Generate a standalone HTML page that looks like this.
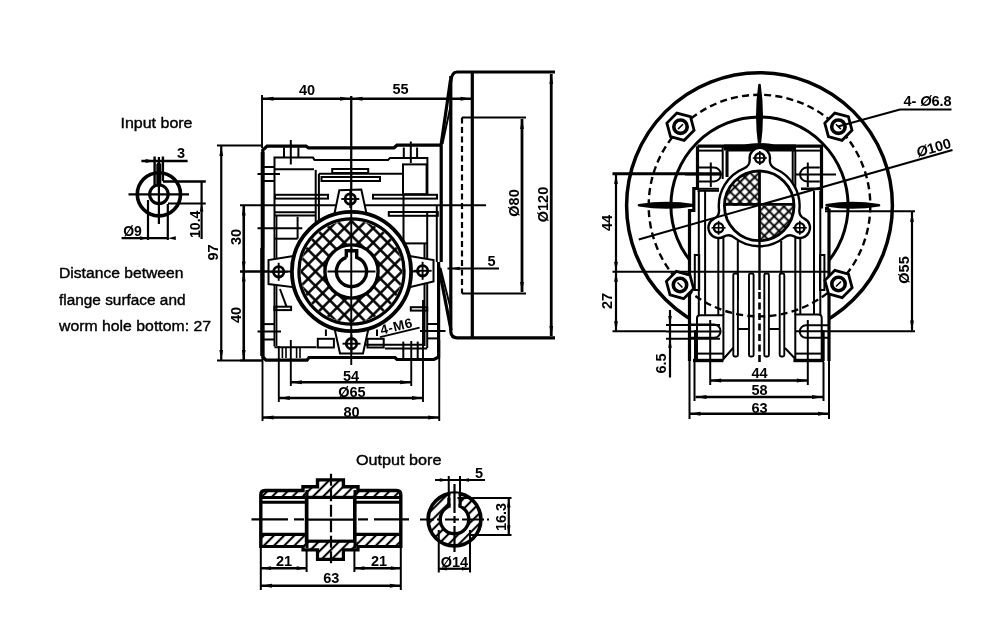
<!DOCTYPE html>
<html><head><meta charset="utf-8"><style>
html,body{margin:0;padding:0;background:#fff;}
svg{display:block;will-change:transform;}
text{font-family:"Liberation Sans",sans-serif;fill:#000;stroke:none;}
</style></head><body>
<svg width="1000" height="636" viewBox="0 0 1000 636" stroke="#000" fill="none">
<defs>
<pattern id="xh" patternUnits="userSpaceOnUse" x="351.5" y="271.5" width="10.2" height="10.2" patternTransform="rotate(45 351.5 271.5)">
<line x1="5.1" y1="-1" x2="5.1" y2="11.2" stroke="#000" stroke-width="2.5"/>
<line x1="-1" y1="5.1" x2="11.2" y2="5.1" stroke="#000" stroke-width="2.5"/>
</pattern>
<pattern id="xh2" patternUnits="userSpaceOnUse" x="759.5" y="206.5" width="6.9" height="6.9" patternTransform="rotate(45 759.5 206.5)">
<line x1="3.45" y1="-1" x2="3.45" y2="7.9" stroke="#000" stroke-width="1.9"/>
<line x1="-1" y1="3.45" x2="7.9" y2="3.45" stroke="#000" stroke-width="1.9"/>
</pattern>
<pattern id="hatch" patternUnits="userSpaceOnUse" width="7.2" height="7.2" patternTransform="rotate(45)">
<line x1="3.6" y1="-1" x2="3.6" y2="8.2" stroke="#000" stroke-width="2.1"/>
</pattern>
</defs>
<rect x="0" y="0" width="1000" height="636" fill="#fff" stroke="none"/>
<text x="120.5" y="128" font-size="15.5" fill="#000" style="stroke:#000;stroke-width:0.4" textLength="72" lengthAdjust="spacingAndGlyphs">Input bore</text>
<text x="59" y="278" font-size="15.5" fill="#000" style="stroke:#000;stroke-width:0.4" textLength="124.5" lengthAdjust="spacingAndGlyphs">Distance between</text>
<text x="59" y="305" font-size="15.5" fill="#000" style="stroke:#000;stroke-width:0.4" textLength="126.5" lengthAdjust="spacingAndGlyphs">flange surface and</text>
<text x="59" y="331" font-size="15.5" fill="#000" style="stroke:#000;stroke-width:0.4" textLength="152" lengthAdjust="spacingAndGlyphs">worm hole bottom: 27</text>
<text x="356" y="465" font-size="15.5" fill="#000" style="stroke:#000;stroke-width:0.4" textLength="85.5" lengthAdjust="spacingAndGlyphs">Output bore</text>
<circle cx="158.9" cy="194.3" r="21.6" stroke-width="3.6" fill="none"/>
<circle cx="158.9" cy="194.3" r="9.3" stroke-width="3.1" fill="none"/>
<line x1="128.5" y1="194.3" x2="189" y2="194.3" stroke-width="2.2" stroke-linecap="butt"/>
<line x1="158.9" y1="157" x2="158.9" y2="224" stroke-width="2.2" stroke-linecap="butt"/>
<path d="M157.2,184 L157.2,164.5 Q158.8,162.5 160.4,164.5 L160.4,184" stroke-width="1.8" fill="none" />
<line x1="154.6" y1="156.5" x2="154.6" y2="185" stroke-width="2.4" stroke-linecap="butt"/>
<line x1="162.9" y1="156.5" x2="162.9" y2="181" stroke-width="2.4" stroke-linecap="butt"/>
<line x1="141.4" y1="161" x2="187.6" y2="161" stroke-width="2.4" stroke-linecap="butt"/>
<polygon points="154.60,161.00 145.60,159.00 145.60,163.00" stroke="none" fill="#000"/>
<text x="181" y="158" font-size="14.5" font-weight="bold" text-anchor="middle">3</text>
<line x1="162.9" y1="181.5" x2="205.8" y2="181.5" stroke-width="2.4" stroke-linecap="butt"/>
<line x1="168" y1="203.5" x2="205.8" y2="203.5" stroke-width="2.2" stroke-linecap="butt"/>
<line x1="201.6" y1="181.5" x2="201.6" y2="239" stroke-width="2.2" stroke-linecap="butt"/>
<polygon points="201.60,203.50 199.80,211.50 203.40,211.50" stroke="none" fill="#000"/>
<text x="0" y="0" transform="translate(199.5,224.3) rotate(-90)" font-size="14" font-weight="bold" text-anchor="middle">10.4</text>
<line x1="148" y1="200" x2="148" y2="240" stroke-width="2.2" stroke-linecap="butt"/>
<line x1="167.8" y1="204" x2="167.8" y2="240" stroke-width="2.2" stroke-linecap="butt"/>
<line x1="121.6" y1="238.2" x2="167.8" y2="238.2" stroke-width="2.2" stroke-linecap="butt"/>
<polygon points="148.00,238.20 140.00,236.30 140.00,240.10" stroke="none" fill="#000"/>
<polygon points="167.80,238.20 175.80,236.30 175.80,240.10" stroke="none" fill="#000"/>
<text x="132.5" y="235.8" font-size="14" font-weight="bold" text-anchor="middle">Ø9</text>
<line x1="262" y1="98.75" x2="471.5" y2="98.75" stroke-width="2.6" stroke-linecap="butt"/>
<polygon points="262.50,98.75 273.50,96.75 273.50,100.75" stroke="none" fill="#000"/>
<polygon points="351.00,98.75 340.00,96.75 340.00,100.75" stroke="none" fill="#000"/>
<polygon points="351.50,98.75 362.50,96.75 362.50,100.75" stroke="none" fill="#000"/>
<polygon points="471.50,98.75 460.50,96.75 460.50,100.75" stroke="none" fill="#000"/>
<line x1="262" y1="95" x2="262" y2="148" stroke-width="1.9" stroke-linecap="butt"/>
<line x1="351.25" y1="96" x2="351.25" y2="352" stroke-width="1.9" stroke-linecap="butt"/>
<text x="307" y="94.6" font-size="14.5" font-weight="bold" text-anchor="middle">40</text>
<text x="400.5" y="94.3" font-size="14.5" font-weight="bold" text-anchor="middle">55</text>
<line x1="217" y1="145.5" x2="263" y2="145.5" stroke-width="1.9" stroke-linecap="butt"/>
<line x1="217" y1="360.5" x2="263" y2="360.5" stroke-width="1.9" stroke-linecap="butt"/>
<line x1="221.25" y1="146" x2="221.25" y2="360" stroke-width="2.2" stroke-linecap="butt"/>
<polygon points="221.25,146.00 219.35,156.00 223.15,156.00" stroke="none" fill="#000"/>
<polygon points="221.25,360.00 219.35,350.00 223.15,350.00" stroke="none" fill="#000"/>
<text x="0" y="0" transform="translate(218,252.5) rotate(-90)" font-size="14.5" font-weight="bold" text-anchor="middle">97</text>
<line x1="240" y1="205.3" x2="486" y2="205.3" stroke-width="1.9" stroke-linecap="butt"/>
<line x1="240" y1="271.5" x2="290" y2="271.5" stroke-width="1.9" stroke-linecap="butt"/>
<line x1="240" y1="360.5" x2="262" y2="360.5" stroke-width="1.9" stroke-linecap="butt"/>
<line x1="243.75" y1="205.5" x2="243.75" y2="271.5" stroke-width="2.6" stroke-linecap="butt"/>
<polygon points="243.75,205.50 241.85,215.50 245.65,215.50" stroke="none" fill="#000"/>
<polygon points="243.75,271.50 241.85,261.50 245.65,261.50" stroke="none" fill="#000"/>
<line x1="243.75" y1="271.5" x2="243.75" y2="360" stroke-width="2.6" stroke-linecap="butt"/>
<polygon points="243.75,271.50 241.85,281.50 245.65,281.50" stroke="none" fill="#000"/>
<polygon points="243.75,360.00 241.85,350.00 245.65,350.00" stroke="none" fill="#000"/>
<text x="0" y="0" transform="translate(241,237) rotate(-90)" font-size="14.5" font-weight="bold" text-anchor="middle">30</text>
<text x="0" y="0" transform="translate(241,315) rotate(-90)" font-size="14.5" font-weight="bold" text-anchor="middle">40</text>
<line x1="290.8" y1="340" x2="290.8" y2="386" stroke-width="1.9" stroke-linecap="butt"/>
<line x1="411.25" y1="341" x2="411.25" y2="386" stroke-width="1.9" stroke-linecap="butt"/>
<line x1="290.8" y1="382.3" x2="411.25" y2="382.3" stroke-width="2.4" stroke-linecap="butt"/>
<polygon points="290.80,382.30 301.80,380.30 301.80,384.30" stroke="none" fill="#000"/>
<polygon points="411.25,382.30 400.25,380.30 400.25,384.30" stroke="none" fill="#000"/>
<line x1="278.8" y1="346" x2="278.8" y2="402" stroke-width="1.9" stroke-linecap="butt"/>
<line x1="423" y1="300" x2="423" y2="402" stroke-width="1.9" stroke-linecap="butt"/>
<line x1="278.8" y1="398" x2="423" y2="398" stroke-width="2.4" stroke-linecap="butt"/>
<polygon points="278.80,398.00 289.80,396.00 289.80,400.00" stroke="none" fill="#000"/>
<polygon points="423.00,398.00 412.00,396.00 412.00,400.00" stroke="none" fill="#000"/>
<line x1="262.5" y1="358" x2="262.5" y2="421" stroke-width="1.9" stroke-linecap="butt"/>
<line x1="439.25" y1="340" x2="439.25" y2="421" stroke-width="1.9" stroke-linecap="butt"/>
<line x1="262.5" y1="417.5" x2="439.25" y2="417.5" stroke-width="2.4" stroke-linecap="butt"/>
<polygon points="262.50,417.50 273.50,415.50 273.50,419.50" stroke="none" fill="#000"/>
<polygon points="439.25,417.50 428.25,415.50 428.25,419.50" stroke="none" fill="#000"/>
<text x="351" y="380.5" font-size="14.5" font-weight="bold" text-anchor="middle">54</text>
<text x="352" y="397.3" font-size="14.5" font-weight="bold" text-anchor="middle">Ø65</text>
<text x="351.5" y="417" font-size="14.5" font-weight="bold" text-anchor="middle">80</text>
<path d="M262.8,358 L262.8,150 L267,146.2 L306,146.2 L308.5,147.8 L394,147.8 L397,145.2 L441.5,145.2" stroke-width="3.2" fill="none" />
<path d="M441.2,145.2 L441.2,262 M438.6,262 L438.6,357 L434,359.5 L397,359.5 L395,357.5 L309,357.5 L307,360.2 L266,360.2 L262.8,357" stroke-width="3.2" fill="none" />
<line x1="262.6" y1="152" x2="262.6" y2="248" stroke-width="3.8" stroke-linecap="butt"/>
<line x1="262.3" y1="248" x2="262.3" y2="356" stroke-width="4.2" stroke-linecap="butt"/>
<path d="M450.7,82 Q451.5,72 457,72 L555,72" stroke-width="3.2" fill="none" />
<path d="M450.5,80 L441,145.5" stroke-width="3.2" fill="none" />
<line x1="451" y1="104" x2="442.5" y2="144" stroke-width="1.9" stroke-linecap="butt"/>
<path d="M438.4,265 L451,330" stroke-width="3.2" fill="none" />
<line x1="440.5" y1="268" x2="450.5" y2="308" stroke-width="1.9" stroke-linecap="butt"/>
<path d="M450.8,76 L450.8,332 Q451.5,337.8 457,337.8 L555,337.8" stroke-width="3.2" fill="none" />
<line x1="472.3" y1="72" x2="472.3" y2="338" stroke-width="3.2" stroke-linecap="butt"/>
<path d="M462,117.5 L526,117.5" stroke-width="2.2" fill="none" />
<line x1="462" y1="117.5" x2="462" y2="293.5" stroke-width="2.2" stroke-dasharray="6,3.5" stroke-linecap="butt"/>
<path d="M462,293.5 L526,293.5" stroke-width="2.2" fill="none" />
<line x1="522" y1="119" x2="522" y2="292" stroke-width="2.8" stroke-linecap="butt"/>
<polygon points="522.00,119.00 520.10,129.00 523.90,129.00" stroke="none" fill="#000"/>
<polygon points="522.00,292.00 520.10,282.00 523.90,282.00" stroke="none" fill="#000"/>
<line x1="551.25" y1="74" x2="551.25" y2="336" stroke-width="2.8" stroke-linecap="butt"/>
<polygon points="551.25,74.00 549.35,84.00 553.15,84.00" stroke="none" fill="#000"/>
<polygon points="551.25,336.00 549.35,326.00 553.15,326.00" stroke="none" fill="#000"/>
<text x="0" y="0" transform="translate(518.5,203) rotate(-90)" font-size="14.5" font-weight="bold" text-anchor="middle">Ø80</text>
<text x="0" y="0" transform="translate(547.5,204.5) rotate(-90)" font-size="14.5" font-weight="bold" text-anchor="middle">Ø120</text>
<line x1="447.5" y1="268.5" x2="499" y2="268.5" stroke-width="1.9" stroke-linecap="butt"/>
<polygon points="450.70,268.50 459.70,266.70 459.70,270.30" stroke="none" fill="#000"/>
<text x="491.5" y="266" font-size="14.5" font-weight="bold" text-anchor="middle">5</text>
<path d="M274.5,346.5 L274.5,157.6 L313,157.6 L314.5,160 L388,160 L390,158 L427.4,158 L427.4,194.2" stroke-width="2.0" fill="none" />
<line x1="276.6" y1="216" x2="276.6" y2="346" stroke-width="1.6" stroke-linecap="butt"/>
<line x1="284" y1="147.5" x2="284" y2="157.6" stroke-width="2.0" stroke-linecap="butt"/>
<line x1="298.4" y1="147.5" x2="298.4" y2="157.6" stroke-width="2.0" stroke-linecap="butt"/>
<line x1="290.8" y1="140" x2="290.8" y2="164.5" stroke-width="2.0" stroke-linecap="butt"/>
<line x1="403.8" y1="147.5" x2="403.8" y2="158" stroke-width="2.0" stroke-linecap="butt"/>
<line x1="417.1" y1="147.5" x2="417.1" y2="158" stroke-width="2.0" stroke-linecap="butt"/>
<line x1="410.8" y1="141.5" x2="410.8" y2="163" stroke-width="2.0" stroke-linecap="butt"/>
<line x1="263" y1="167" x2="274.5" y2="167" stroke-width="2.0" stroke-linecap="butt"/>
<line x1="257.5" y1="174" x2="280" y2="174" stroke-width="2.0" stroke-linecap="butt"/>
<line x1="263" y1="181" x2="274.5" y2="181" stroke-width="2.0" stroke-linecap="butt"/>
<line x1="274.5" y1="169.2" x2="314" y2="169.2" stroke-width="2.0" stroke-linecap="butt"/>
<line x1="315.7" y1="169.9" x2="315.7" y2="240" stroke-width="2.0" stroke-linecap="butt"/>
<line x1="318.9" y1="173.8" x2="318.9" y2="240" stroke-width="2.0" stroke-linecap="butt"/>
<rect x="321.5" y="177" width="58.5" height="4" stroke-width="2.0" fill="none"/>
<rect x="332.2" y="169" width="36" height="4" stroke-width="2.0" fill="none"/>
<line x1="318.9" y1="173.8" x2="402.2" y2="173.8" stroke-width="2.0" stroke-linecap="butt"/>
<rect x="403" y="164.4" width="23.6" height="29.8" stroke-width="2.0" fill="none"/>
<line x1="403.5" y1="194.2" x2="403.5" y2="243.4" stroke-width="2.0" stroke-linecap="butt"/>
<line x1="403.5" y1="243.4" x2="427.2" y2="243.4" stroke-width="2.0" stroke-linecap="butt"/>
<rect x="275" y="194.8" width="53" height="3.8" stroke-width="2.0" fill="none"/>
<rect x="373" y="194.8" width="64" height="3.8" stroke-width="2.0" fill="none"/>
<rect x="388.8" y="212" width="49" height="3.8" stroke-width="2.0" fill="none"/>
<line x1="274.8" y1="212.3" x2="315.7" y2="212.3" stroke-width="2.0" stroke-linecap="butt"/>
<line x1="274.8" y1="215.5" x2="315.7" y2="215.5" stroke-width="2.0" stroke-linecap="butt"/>
<line x1="436.8" y1="205" x2="436.8" y2="262" stroke-width="2.0" stroke-linecap="butt"/>
<line x1="257.5" y1="228.2" x2="302.3" y2="228.2" stroke-width="2.0" stroke-linecap="butt"/>
<line x1="297.6" y1="216.7" x2="297.6" y2="238.7" stroke-width="2.0" stroke-linecap="butt"/>
<line x1="274.8" y1="238.7" x2="297.6" y2="238.7" stroke-width="2.0" stroke-linecap="butt"/>
<line x1="424.5" y1="243" x2="424.5" y2="346" stroke-width="2.0" stroke-linecap="butt"/>
<line x1="427.2" y1="212" x2="427.2" y2="348" stroke-width="2.0" stroke-linecap="butt"/>
<line x1="274.5" y1="347.2" x2="316.5" y2="347.2" stroke-width="2.0" stroke-linecap="butt"/>
<line x1="355" y1="344.8" x2="424.5" y2="344.8" stroke-width="2.0" stroke-linecap="butt"/>
<line x1="385" y1="348.6" x2="427.2" y2="348.6" stroke-width="2.0" stroke-linecap="butt"/>
<rect x="274.4" y="306.7" width="16.7" height="3.4" stroke-width="2.0" fill="none"/>
<rect x="410.8" y="307.2" width="16.4" height="3.4" stroke-width="2.0" fill="none"/>
<line x1="279" y1="282" x2="290" y2="282" stroke-width="2.0" stroke-linecap="butt"/>
<line x1="290" y1="282" x2="299" y2="285" stroke-width="2.0" stroke-linecap="butt"/>
<line x1="280" y1="289" x2="286.5" y2="306.7" stroke-width="2.0" stroke-linecap="butt"/>
<line x1="263" y1="324.1" x2="274.4" y2="324.1" stroke-width="2.0" stroke-linecap="butt"/>
<line x1="263" y1="339.5" x2="274.4" y2="339.5" stroke-width="2.0" stroke-linecap="butt"/>
<line x1="257.5" y1="331.5" x2="281" y2="331.5" stroke-width="2.0" stroke-linecap="butt"/>
<line x1="428" y1="324" x2="437" y2="324" stroke-width="2.0" stroke-linecap="butt"/>
<line x1="428" y1="338.4" x2="437" y2="338.4" stroke-width="2.0" stroke-linecap="butt"/>
<line x1="420" y1="331" x2="445.5" y2="331" stroke-width="2.0" stroke-linecap="butt"/>
<line x1="282.4" y1="347" x2="282.4" y2="358" stroke-width="1.6" stroke-linecap="butt"/>
<line x1="286" y1="347" x2="286" y2="358" stroke-width="1.6" stroke-linecap="butt"/>
<line x1="296.6" y1="347" x2="296.6" y2="358" stroke-width="1.6" stroke-linecap="butt"/>
<line x1="300" y1="347" x2="300" y2="358" stroke-width="1.6" stroke-linecap="butt"/>
<line x1="403.3" y1="341.6" x2="403.3" y2="358" stroke-width="2.0" stroke-linecap="butt"/>
<line x1="417.7" y1="341.6" x2="417.7" y2="358" stroke-width="2.0" stroke-linecap="butt"/>
<rect x="317.8" y="338.8" width="16.1" height="8.7" stroke-width="2.0" fill="none"/>
<rect x="367.5" y="338.8" width="16.2" height="8.7" stroke-width="2.0" fill="none"/>
<line x1="325.9" y1="329.5" x2="325.9" y2="336" stroke-width="2.0" stroke-linecap="butt"/>
<line x1="377" y1="329.5" x2="377" y2="336" stroke-width="2.0" stroke-linecap="butt"/>
<path d="M409.50,256.00 L433.50,260.10 L433.50,281.50 L409.50,287.20 Z" stroke-width="2.0" fill="#fff" />
<path d="M293.50,256.00 L268.50,260.00 L268.50,284.00 L293.50,287.20 Z" stroke-width="2.0" fill="#fff" />
<path d="M334.50,213.50 L339.30,190.30 L361.30,189.50 L366.50,213.50 Z" stroke-width="2.0" fill="#fff" />
<path d="M334.50,328.50 L340.00,353.50 L363.00,353.50 L368.50,328.50 Z" stroke-width="2.0" fill="#fff" />
<circle cx="351.5" cy="271.5" r="59.6" stroke-width="3.8" fill="#fff"/>
<circle cx="351.5" cy="271.5" r="52.6" stroke-width="3.2" fill="none"/>
<path d="M402.5,271.5 A51,51 0 1,0 300.5,271.5 A51,51 0 1,0 402.5,271.5 Z M377.5,271.5 A26,26 0 1,1 325.5,271.5 A26,26 0 1,1 377.5,271.5 Z" fill="url(#xh)" fill-rule="evenodd" stroke="none"/>
<circle cx="351.5" cy="271.5" r="26.6" stroke-width="3.4" fill="#fff"/>
<path d="M346.3,257.4 L346.3,250.7 L356.7,250.7 L356.7,257.4 A15.1,15.1 0 1,1 346.3,257.4" stroke-width="3.4" fill="none" />
<line x1="351.5" y1="247.5" x2="351.5" y2="250.7" stroke-width="1.9" stroke-linecap="butt"/>
<circle cx="422.6" cy="270.8" r="5.2" stroke-width="2.8" fill="#fff"/>
<line x1="413.6" y1="270.8" x2="431.6" y2="270.8" stroke-width="1.9" stroke-linecap="butt"/>
<line x1="422.6" y1="261.8" x2="422.6" y2="279.8" stroke-width="1.9" stroke-linecap="butt"/>
<circle cx="278.7" cy="271.8" r="5.2" stroke-width="2.8" fill="#fff"/>
<line x1="269.7" y1="271.8" x2="287.7" y2="271.8" stroke-width="1.9" stroke-linecap="butt"/>
<line x1="278.7" y1="262.8" x2="278.7" y2="280.8" stroke-width="1.9" stroke-linecap="butt"/>
<circle cx="350.3" cy="199.0" r="5.2" stroke-width="2.8" fill="#fff"/>
<line x1="341.3" y1="199.0" x2="359.3" y2="199.0" stroke-width="1.9" stroke-linecap="butt"/>
<line x1="350.3" y1="190.0" x2="350.3" y2="208.0" stroke-width="1.9" stroke-linecap="butt"/>
<circle cx="351.5" cy="343.7" r="5.2" stroke-width="2.8" fill="#fff"/>
<line x1="342.5" y1="343.7" x2="360.5" y2="343.7" stroke-width="1.9" stroke-linecap="butt"/>
<line x1="351.5" y1="334.7" x2="351.5" y2="352.7" stroke-width="1.9" stroke-linecap="butt"/>
<line x1="327.5" y1="271.5" x2="375.5" y2="271.5" stroke-width="1.9" stroke-linecap="butt"/>
<line x1="240" y1="271.5" x2="290" y2="271.5" stroke-width="1.9" stroke-linecap="butt"/>
<line x1="412" y1="271.5" x2="420" y2="271.5" stroke-width="1.9" stroke-linecap="butt"/>
<line x1="351.25" y1="96" x2="351.25" y2="365" stroke-width="1.9" stroke-linecap="butt"/>
<line x1="380" y1="337.2" x2="419.6" y2="327.7" stroke-width="1.9" stroke-linecap="butt"/>
<text x="0" y="0" transform="translate(397.5,330.8) rotate(-13.5)" font-size="13.5" font-weight="bold" text-anchor="middle" letter-spacing="0.6">4-M6</text>
<circle cx="759.5" cy="205.6" r="132.9" stroke-width="3.5" fill="none"/>
<circle cx="759.5" cy="205.6" r="88.6" stroke-width="3.0" fill="none"/>
<path d="M639,205.3 Q666.5,200.9 694,205.3 Q666.5,209.70000000000002 639,205.3 Z" fill="#000" stroke="#000" stroke-width="2.6" stroke-linejoin="round"/>
<path d="M826,205.3 Q852.5,200.9 879,205.3 Q852.5,209.70000000000002 826,205.3 Z" fill="#000" stroke="#000" stroke-width="2.6" stroke-linejoin="round"/>
<path d="M759.5,85 Q755.1,115.5 759.5,146 Q763.9,115.5 759.5,85 Z" fill="#000" stroke="#000" stroke-width="2.6" stroke-linejoin="round"/>
<path d="M697,146 L820.5,146 L821.5,189 L825.5,189 L825.5,208.5 L829,208.5 L829,361 L696,361 L689.5,356 L689.5,211 L694,211 L694,189 L697,189 Z" stroke-width="0" fill="#fff" />
<path d="M697.5,146.2 L821.5,146.2 L821.5,208.5" stroke-width="3.2" fill="none" />
<path d="M697.5,146.2 L697.5,188.5 L693.8,188.5 L693.8,210.5 L689.5,210.5 L689.5,361" stroke-width="3.2" fill="none" />
<line x1="689.5" y1="361" x2="689.5" y2="419" stroke-width="2.0" stroke-linecap="butt"/>
<path d="M829,208.5 L829,361" stroke-width="3.2" fill="none" />
<line x1="829" y1="361" x2="829" y2="419" stroke-width="2.0" stroke-linecap="butt"/>
<line x1="825" y1="208.5" x2="829" y2="208.5" stroke-width="3.2" stroke-linecap="butt"/>
<line x1="697.5" y1="150.6" x2="722.7" y2="150.6" stroke-width="2.0" stroke-linecap="butt"/>
<line x1="722.7" y1="146" x2="722.7" y2="179" stroke-width="2.0" stroke-linecap="butt"/>
<line x1="726.5" y1="150.6" x2="726.5" y2="177" stroke-width="2.0" stroke-linecap="butt"/>
<line x1="727.8" y1="150.6" x2="727.8" y2="177" stroke-width="1.5" stroke-linecap="butt"/>
<line x1="726.5" y1="150.6" x2="792.7" y2="150.6" stroke-width="2.0" stroke-linecap="butt"/>
<line x1="693.8" y1="188.8" x2="719" y2="188.8" stroke-width="2.0" stroke-linecap="butt"/>
<line x1="697.5" y1="190.8" x2="719" y2="190.8" stroke-width="2.0" stroke-linecap="butt"/>
<path d="M698.8,167.6 L714,167.6 A6.9,6.9 0 0,1 714,181.4 L698.8,181.4" stroke-width="2.0" fill="none" />
<line x1="685" y1="174.5" x2="721.5" y2="174.5" stroke-width="2.0" stroke-linecap="butt"/>
<line x1="710.8" y1="162.5" x2="710.8" y2="187" stroke-width="2.0" stroke-linecap="butt"/>
<line x1="792.7" y1="150.6" x2="821.5" y2="150.6" stroke-width="2.0" stroke-linecap="butt"/>
<line x1="792.7" y1="150.6" x2="792.7" y2="188" stroke-width="2.0" stroke-linecap="butt"/>
<line x1="795.3" y1="150.6" x2="795.3" y2="188" stroke-width="2.0" stroke-linecap="butt"/>
<line x1="801" y1="188.8" x2="823" y2="188.8" stroke-width="2.6" stroke-linecap="butt"/>
<path d="M819.8,167.6 L807,167.6 A6.9,6.9 0 0,0 807,181.4 L819.8,181.4" stroke-width="2.0" fill="none" />
<line x1="796" y1="174.5" x2="836" y2="174.5" stroke-width="2.0" stroke-linecap="butt"/>
<line x1="807.8" y1="162.5" x2="807.8" y2="187" stroke-width="2.0" stroke-linecap="butt"/>
<line x1="698.8" y1="191" x2="698.8" y2="315" stroke-width="2.0" stroke-linecap="butt"/>
<line x1="705.1" y1="191" x2="705.1" y2="315" stroke-width="2.0" stroke-linecap="butt"/>
<line x1="718.3" y1="238" x2="718.3" y2="315" stroke-width="2.0" stroke-linecap="butt"/>
<line x1="723.4" y1="215" x2="723.4" y2="315" stroke-width="2.0" stroke-linecap="butt"/>
<line x1="737.8" y1="241" x2="737.8" y2="300" stroke-width="2.0" stroke-linecap="butt"/>
<line x1="781.2" y1="241" x2="781.2" y2="300" stroke-width="2.0" stroke-linecap="butt"/>
<line x1="795.3" y1="238" x2="795.3" y2="315" stroke-width="2.0" stroke-linecap="butt"/>
<line x1="800.3" y1="215" x2="800.3" y2="315" stroke-width="2.0" stroke-linecap="butt"/>
<line x1="814" y1="191" x2="814" y2="315" stroke-width="2.0" stroke-linecap="butt"/>
<line x1="820.3" y1="191" x2="820.3" y2="315" stroke-width="2.0" stroke-linecap="butt"/>
<rect x="694.8" y="255" width="4.4" height="35" stroke-width="2" fill="none"/>
<rect x="820" y="255" width="4.4" height="35" stroke-width="2" fill="none"/>
<line x1="612.5" y1="271.8" x2="829" y2="271.8" stroke-width="2.0" stroke-linecap="butt"/>
<line x1="733.4" y1="329" x2="749" y2="329" stroke-width="2.0" stroke-linecap="butt"/>
<line x1="769" y1="329" x2="779.5" y2="329" stroke-width="2.0" stroke-linecap="butt"/>
<path d="M724,144.5 L744,144.5 Q759.5,141.5 775,144.5 L796,144.5 L796,150.5 L724,150.5 Z" fill="#000" stroke="none"/>
<path d="M744.07,168.34 A9,9 0 0,0 749.66,159.06 A10.2,10.2 0 1,1 769.92,159.31 A9,9 0 0,0 775.26,168.73 A40.4,40.4 0 0,1 799.41,209.74 A9,9 0 0,0 804.35,218.67 A10.2,10.2 0 1,1 794.64,236.60 A9,9 0 0,0 784.45,237.33 A40.4,40.4 0 0,1 733.95,237.33 A9,9 0 0,0 723.76,236.60 A10.2,10.2 0 1,1 714.05,218.67 A9,9 0 0,0 718.99,209.74 A40.4,40.4 0 0,1 744.07,168.34 Z" stroke-width="2.4" fill="#fff" />
<path d="M759.2,205.8 L724.2,205.8 A35,35 0 0,1 759.2,170.8 Z" fill="url(#xh2)" stroke="none"/>
<path d="M759.2,205.8 L794.2,205.8 A35,35 0 0,1 759.2,240.8 Z" fill="url(#xh2)" stroke="none"/>
<circle cx="759.2" cy="205.8" r="34.8" stroke-width="2.8" fill="none"/>
<line x1="724.2" y1="204.3" x2="794.2" y2="204.3" stroke-width="2.8" stroke-linecap="butt"/>
<line x1="759.5" y1="170.8" x2="759.5" y2="240.8" stroke-width="2.8" stroke-linecap="butt"/>
<circle cx="759.8" cy="158.0" r="4.7" stroke-width="2.4" fill="#fff"/>
<line x1="752.8" y1="158.0" x2="766.8" y2="158.0" stroke-width="1.6" stroke-linecap="butt"/>
<line x1="759.8" y1="151.0" x2="759.8" y2="165.0" stroke-width="1.6" stroke-linecap="butt"/>
<circle cx="718.6" cy="227.8" r="4.7" stroke-width="2.4" fill="#fff"/>
<line x1="711.6" y1="227.8" x2="725.6" y2="227.8" stroke-width="1.6" stroke-linecap="butt"/>
<line x1="718.6" y1="220.8" x2="718.6" y2="234.8" stroke-width="1.6" stroke-linecap="butt"/>
<circle cx="799.8" cy="227.8" r="4.7" stroke-width="2.4" fill="#fff"/>
<line x1="792.8" y1="227.8" x2="806.8" y2="227.8" stroke-width="1.6" stroke-linecap="butt"/>
<line x1="799.8" y1="220.8" x2="799.8" y2="234.8" stroke-width="1.6" stroke-linecap="butt"/>
<rect x="733.3000000000001" y="273.5" width="4.6" height="83" rx="1.5" stroke-width="1.9" fill="#fff"/>
<rect x="749.0" y="273.5" width="4.6" height="83" rx="1.5" stroke-width="1.9" fill="#fff"/>
<rect x="764.3000000000001" y="273.5" width="4.6" height="83" rx="1.5" stroke-width="1.9" fill="#fff"/>
<rect x="779.7" y="273.5" width="4.6" height="83" rx="1.5" stroke-width="1.9" fill="#fff"/>
<line x1="759.5" y1="241" x2="759.5" y2="290" stroke-width="2.4" stroke-linecap="butt"/>
<line x1="759.5" y1="292" x2="759.5" y2="362" stroke-width="2.6" stroke-dasharray="7,3.5" stroke-linecap="butt"/>
<path d="M697,361 L697,318 Q697,315.2 700,315.2 L723.4,315.2 L723.4,359 L733,348 L733.4,348" stroke-width="2.0" fill="none" />
<path d="M821.7,361 L821.7,318 Q821.7,314.6 818,314.6 L795.3,314.6 L795.3,359 L785,348" stroke-width="2.0" fill="none" />
<line x1="693" y1="360.5" x2="723.4" y2="360.5" stroke-width="3.4" stroke-linecap="butt"/>
<line x1="793.4" y1="360.5" x2="824" y2="360.5" stroke-width="3.4" stroke-linecap="butt"/>
<line x1="695.7" y1="330" x2="695.7" y2="361" stroke-width="3.4" stroke-linecap="butt"/>
<line x1="823" y1="330" x2="823" y2="361" stroke-width="3.4" stroke-linecap="butt"/>
<line x1="697" y1="353.6" x2="723.4" y2="353.6" stroke-width="2.0" stroke-linecap="butt"/>
<line x1="795.3" y1="353.6" x2="821.7" y2="353.6" stroke-width="2.0" stroke-linecap="butt"/>
<path d="M689.5,324.6 L714,324.6 A6.6,6.6 0 0,1 714,337.8 L689.5,337.8" stroke-width="2.0" fill="none" />
<path d="M829,325.3 L806,325.3 A6.25,6.25 0 0,0 806,337.8 L829,337.8" stroke-width="2.0" fill="none" />
<line x1="666" y1="331.5" x2="720.8" y2="331.5" stroke-width="2.0" stroke-linecap="butt"/>
<line x1="710.2" y1="320" x2="710.2" y2="385" stroke-width="2.0" stroke-linecap="butt"/>
<line x1="796" y1="331.25" x2="915" y2="331.25" stroke-width="2.0" stroke-linecap="butt"/>
<line x1="807.8" y1="320" x2="807.8" y2="385" stroke-width="2.0" stroke-linecap="butt"/>
<circle cx="759.5" cy="205.6" r="110.8" stroke-width="2.4" fill="none" stroke-dasharray="7,4.2"/>
<path d="M694.12,130.35 L684.15,140.32 L670.53,136.67 L666.88,123.05 L676.85,113.08 L690.47,116.73 Z" stroke-width="2.8" fill="#fff" />
<circle cx="680.5" cy="126.7" r="6.7" stroke-width="3.6" fill="none"/>
<line x1="678.0251262658471" y1="129.17487373415292" x2="682.9748737341529" y2="124.22512626584708" stroke-width="1.6" stroke-linecap="butt"/>
<path d="M852.02,130.35 L842.05,140.32 L828.43,136.67 L824.78,123.05 L834.75,113.08 L848.37,116.73 Z" stroke-width="2.8" fill="#fff" />
<circle cx="838.4" cy="126.7" r="6.7" stroke-width="3.6" fill="none"/>
<line x1="835.9251262658471" y1="124.22512626584708" x2="840.8748737341529" y2="129.17487373415292" stroke-width="1.6" stroke-linecap="butt"/>
<path d="M693.62,288.65 L683.65,298.62 L670.03,294.97 L666.38,281.35 L676.35,271.38 L689.97,275.03 Z" stroke-width="2.8" fill="#fff" />
<circle cx="680.0" cy="285.0" r="6.7" stroke-width="3.6" fill="none"/>
<line x1="677.5251262658471" y1="282.52512626584706" x2="682.4748737341529" y2="287.47487373415294" stroke-width="1.6" stroke-linecap="butt"/>
<path d="M852.12,287.65 L842.15,297.62 L828.53,293.97 L824.88,280.35 L834.85,270.38 L848.47,274.03 Z" stroke-width="2.8" fill="#fff" />
<circle cx="838.5" cy="284" r="6.7" stroke-width="3.6" fill="none"/>
<line x1="836.0251262658471" y1="286.47487373415294" x2="840.9748737341529" y2="281.52512626584706" stroke-width="1.6" stroke-linecap="butt"/>
<line x1="612.5" y1="173.75" x2="720" y2="173.75" stroke-width="2.8" stroke-linecap="butt"/>
<line x1="616" y1="174" x2="616" y2="271.8" stroke-width="2.2" stroke-linecap="butt"/>
<polygon points="616.00,174.00 614.10,184.00 617.90,184.00" stroke="none" fill="#000"/>
<polygon points="616.00,271.80 614.10,261.80 617.90,261.80" stroke="none" fill="#000"/>
<line x1="616" y1="271.8" x2="616" y2="331.3" stroke-width="2.2" stroke-linecap="butt"/>
<polygon points="616.00,271.80 614.10,281.80 617.90,281.80" stroke="none" fill="#000"/>
<polygon points="616.00,331.30 614.10,321.30 617.90,321.30" stroke="none" fill="#000"/>
<line x1="612.5" y1="331.3" x2="666" y2="331.3" stroke-width="2.0" stroke-linecap="butt"/>
<text x="0" y="0" transform="translate(612,223) rotate(-90)" font-size="14.5" font-weight="bold" text-anchor="middle">44</text>
<text x="0" y="0" transform="translate(612,301) rotate(-90)" font-size="14.5" font-weight="bold" text-anchor="middle">27</text>
<line x1="666" y1="325" x2="720" y2="325" stroke-width="2.0" stroke-linecap="butt"/>
<line x1="666" y1="338.75" x2="720" y2="338.75" stroke-width="2.0" stroke-linecap="butt"/>
<line x1="670" y1="310" x2="670" y2="338.75" stroke-width="2.2" stroke-linecap="butt"/>
<polygon points="670.00,325.00 668.20,316.00 671.80,316.00" stroke="none" fill="#000"/>
<line x1="670" y1="338.75" x2="670" y2="377.5" stroke-width="2.2" stroke-linecap="butt"/>
<polygon points="670.00,338.75 668.20,347.75 671.80,347.75" stroke="none" fill="#000"/>
<text x="0" y="0" transform="translate(666,363.5) rotate(-90)" font-size="14.5" font-weight="bold" text-anchor="middle">6.5</text>
<line x1="710.2" y1="380.5" x2="807.8" y2="380.5" stroke-width="2.4" stroke-linecap="butt"/>
<polygon points="710.20,380.50 721.20,378.50 721.20,382.50" stroke="none" fill="#000"/>
<polygon points="807.80,380.50 796.80,378.50 796.80,382.50" stroke="none" fill="#000"/>
<line x1="694.5" y1="362" x2="694.5" y2="401" stroke-width="2.0" stroke-linecap="butt"/>
<line x1="823.5" y1="362" x2="823.5" y2="401" stroke-width="2.0" stroke-linecap="butt"/>
<line x1="695.5" y1="397" x2="823" y2="397" stroke-width="2.4" stroke-linecap="butt"/>
<polygon points="695.50,397.00 706.50,395.00 706.50,399.00" stroke="none" fill="#000"/>
<polygon points="823.00,397.00 812.00,395.00 812.00,399.00" stroke="none" fill="#000"/>
<line x1="689.5" y1="413.8" x2="829" y2="413.8" stroke-width="2.4" stroke-linecap="butt"/>
<polygon points="689.50,413.80 700.50,411.80 700.50,415.80" stroke="none" fill="#000"/>
<polygon points="829.00,413.80 818.00,411.80 818.00,415.80" stroke="none" fill="#000"/>
<text x="759.5" y="377.5" font-size="14.5" font-weight="bold" text-anchor="middle">44</text>
<text x="759.5" y="395" font-size="14.5" font-weight="bold" text-anchor="middle">58</text>
<text x="759.5" y="412.5" font-size="14.5" font-weight="bold" text-anchor="middle">63</text>
<line x1="825" y1="211.25" x2="915" y2="211.25" stroke-width="2.0" stroke-linecap="butt"/>
<line x1="912" y1="212" x2="912" y2="330.5" stroke-width="2.2" stroke-linecap="butt"/>
<polygon points="912.00,212.00 910.10,222.00 913.90,222.00" stroke="none" fill="#000"/>
<polygon points="912.00,330.50 910.10,320.50 913.90,320.50" stroke="none" fill="#000"/>
<text x="0" y="0" transform="translate(909,270) rotate(-90)" font-size="14.5" font-weight="bold" text-anchor="middle">Ø55</text>
<line x1="838" y1="126.5" x2="900" y2="109.5" stroke-width="2.0" stroke-linecap="butt"/>
<line x1="900" y1="109.5" x2="951.5" y2="109.5" stroke-width="2.2" stroke-linecap="butt"/>
<text x="903.5" y="106.3" font-size="14.5" font-weight="bold" textLength="48" lengthAdjust="spacing">4- <tspan font-style="italic">Ø</tspan>6.8</text>
<line x1="638.75" y1="239.5" x2="952.5" y2="150" stroke-width="2.0" stroke-linecap="butt"/>
<text transform="translate(935,152.5) rotate(-15.9)" font-size="14.5" font-weight="bold" text-anchor="middle"><tspan font-style="italic">Ø</tspan>100</text>
<rect x="261" y="491" width="45" height="6.5" fill="url(#hatch)" stroke="none"/>
<rect x="261" y="535" width="45" height="11" fill="url(#hatch)" stroke="none"/>
<rect x="356" y="491" width="45" height="6.5" fill="url(#hatch)" stroke="none"/>
<rect x="356" y="535" width="45" height="11" fill="url(#hatch)" stroke="none"/>
<path d="M303,486.8 L317.5,486.8 L317.5,479.9 L343.4,479.9 L343.4,486.8 L358,486.8 L358,497.2 L303,497.2 Z" fill="url(#hatch)" stroke="none"/>
<path d="M303,541.2 L358,541.2 L358,549.9 L343.4,549.9 L343.4,559.4 L317.5,559.4 L317.5,549.9 L303,549.9 Z" fill="url(#hatch)" stroke="none"/>
<path d="M260.8,548 L260.8,495 Q260.8,490.5 265,490.5 L303,490.5 L303,486.8 L317.5,486.8 L317.5,479.9 L343.4,479.9 L343.4,486.8 L358,486.8 L358,490.5 L396.5,490.5 Q400.8,490.5 400.8,495 L400.8,548" stroke-width="3.4" fill="none" />
<path d="M260.8,546.5 L303,546.5 L303,549.9 L317.5,549.9 L317.5,559.4 L343.4,559.4 L343.4,549.9 L358,549.9 L358,546.5 L400.8,546.5" stroke-width="3.2" fill="none" />
<line x1="262" y1="497.6" x2="306" y2="497.6" stroke-width="3.0" stroke-linecap="butt"/>
<line x1="356" y1="497.6" x2="400" y2="497.6" stroke-width="3.0" stroke-linecap="butt"/>
<line x1="262" y1="502.3" x2="306" y2="502.3" stroke-width="3.0" stroke-linecap="butt"/>
<line x1="356" y1="502.3" x2="400" y2="502.3" stroke-width="3.0" stroke-linecap="butt"/>
<line x1="262" y1="534.3" x2="306" y2="534.3" stroke-width="3.2" stroke-linecap="butt"/>
<line x1="356" y1="534.3" x2="400" y2="534.3" stroke-width="3.2" stroke-linecap="butt"/>
<rect x="306.4" y="497.4" width="48.2" height="43.8" stroke-width="3.2" fill="none"/>
<line x1="306.4" y1="519.6" x2="354.6" y2="519.6" stroke-width="2.4" stroke-linecap="butt"/>
<line x1="307" y1="490" x2="307" y2="548" stroke-width="3.0" stroke-linecap="butt"/>
<line x1="355" y1="490" x2="355" y2="548" stroke-width="3.0" stroke-linecap="butt"/>
<line x1="251.5" y1="519.4" x2="288" y2="519.4" stroke-width="2.2" stroke-linecap="butt"/>
<line x1="294" y1="519.4" x2="304" y2="519.4" stroke-width="2.2" stroke-linecap="butt"/>
<line x1="358" y1="519.4" x2="368" y2="519.4" stroke-width="2.2" stroke-linecap="butt"/>
<line x1="374" y1="519.4" x2="409" y2="519.4" stroke-width="2.2" stroke-linecap="butt"/>
<line x1="331" y1="473.8" x2="331" y2="565.4" stroke-width="2.2" stroke-dasharray="12,3.5" stroke-linecap="butt"/>
<line x1="260.8" y1="548" x2="260.8" y2="590" stroke-width="2.0" stroke-linecap="butt"/>
<line x1="400.8" y1="548" x2="400.8" y2="590" stroke-width="2.0" stroke-linecap="butt"/>
<line x1="306.6" y1="550" x2="306.6" y2="572" stroke-width="2.0" stroke-linecap="butt"/>
<line x1="354.4" y1="550" x2="354.4" y2="572" stroke-width="2.0" stroke-linecap="butt"/>
<line x1="261" y1="568.2" x2="306.6" y2="568.2" stroke-width="2.4" stroke-linecap="butt"/>
<polygon points="261.00,568.20 271.00,566.30 271.00,570.10" stroke="none" fill="#000"/>
<polygon points="306.60,568.20 296.60,566.30 296.60,570.10" stroke="none" fill="#000"/>
<line x1="354.4" y1="568.2" x2="400.8" y2="568.2" stroke-width="2.4" stroke-linecap="butt"/>
<polygon points="354.40,568.20 364.40,566.30 364.40,570.10" stroke="none" fill="#000"/>
<polygon points="400.80,568.20 390.80,566.30 390.80,570.10" stroke="none" fill="#000"/>
<line x1="261" y1="585.8" x2="400.8" y2="585.8" stroke-width="2.4" stroke-linecap="butt"/>
<polygon points="261.00,585.80 272.00,583.80 272.00,587.80" stroke="none" fill="#000"/>
<polygon points="400.80,585.80 389.80,583.80 389.80,587.80" stroke="none" fill="#000"/>
<text x="284" y="565.5" font-size="14.5" font-weight="bold" text-anchor="middle">21</text>
<text x="379" y="565.5" font-size="14.5" font-weight="bold" text-anchor="middle">21</text>
<text x="331.2" y="583" font-size="14.5" font-weight="bold" text-anchor="middle">63</text>
<path d="M481.0,519.5 A26.5,26.5 0 1,0 428.0,519.5 A26.5,26.5 0 1,0 481.0,519.5 Z M468.5,519.5 A14,14 0 1,1 440.5,519.5 A14,14 0 1,1 468.5,519.5 Z" fill="url(#hatch)" fill-rule="evenodd" stroke="none"/>
<circle cx="454.5" cy="519.5" r="26.4" stroke-width="3.6" fill="none"/>
<path d="M449.0,506.3 L449.0,499.5 L460.0,499.5 L460.0,506.3 A14.3,14.3 0 1,1 449.0,506.3 Z" stroke-width="3.4" fill="#fff" />
<rect x="450.5" y="493.5" width="8" height="10" fill="#fff" stroke="none"/>
<line x1="449.0" y1="493.5" x2="449.0" y2="505.5" stroke-width="2.4" stroke-linecap="butt"/>
<line x1="460.0" y1="493.5" x2="460.0" y2="501.5" stroke-width="2.4" stroke-linecap="butt"/>
<line x1="420" y1="519.5" x2="489" y2="519.5" stroke-width="2.2" stroke-dasharray="14,3,5,3" stroke-linecap="butt"/>
<line x1="454.5" y1="484" x2="454.5" y2="513" stroke-width="2.2" stroke-linecap="butt"/>
<line x1="454.5" y1="516" x2="454.5" y2="523" stroke-width="2.2" stroke-linecap="butt"/>
<line x1="454.5" y1="526" x2="454.5" y2="552" stroke-width="2.2" stroke-linecap="butt"/>
<line x1="435" y1="480" x2="485" y2="480" stroke-width="2.2" stroke-linecap="butt"/>
<line x1="448.75" y1="476" x2="448.75" y2="493" stroke-width="2.0" stroke-linecap="butt"/>
<line x1="460" y1="476" x2="460" y2="493" stroke-width="2.0" stroke-linecap="butt"/>
<polygon points="448.75,480.00 439.75,478.20 439.75,481.80" stroke="none" fill="#000"/>
<polygon points="460.00,480.00 469.00,478.20 469.00,481.80" stroke="none" fill="#000"/>
<text x="479" y="478" font-size="14.5" font-weight="bold" text-anchor="middle">5</text>
<line x1="457.5" y1="498" x2="511.5" y2="498" stroke-width="2.0" stroke-linecap="butt"/>
<line x1="470" y1="535" x2="511.5" y2="535" stroke-width="2.0" stroke-linecap="butt"/>
<line x1="508.75" y1="498.5" x2="508.75" y2="534.5" stroke-width="2.2" stroke-linecap="butt"/>
<polygon points="508.75,498.50 506.95,507.50 510.55,507.50" stroke="none" fill="#000"/>
<polygon points="508.75,534.50 506.95,525.50 510.55,525.50" stroke="none" fill="#000"/>
<text x="0" y="0" transform="translate(506,517) rotate(-90)" font-size="14.5" font-weight="bold" text-anchor="middle">16.3</text>
<line x1="438.75" y1="530" x2="438.75" y2="572.5" stroke-width="2.0" stroke-linecap="butt"/>
<line x1="470" y1="530" x2="470" y2="572.5" stroke-width="2.0" stroke-linecap="butt"/>
<line x1="438.75" y1="568.75" x2="470" y2="568.75" stroke-width="2.2" stroke-linecap="butt"/>
<polygon points="438.75,568.75 446.75,566.95 446.75,570.55" stroke="none" fill="#000"/>
<polygon points="470.00,568.75 462.00,566.95 462.00,570.55" stroke="none" fill="#000"/>
<text x="454.5" y="566.5" font-size="14.5" font-weight="bold" text-anchor="middle">Ø14</text>
</svg>
</body></html>
